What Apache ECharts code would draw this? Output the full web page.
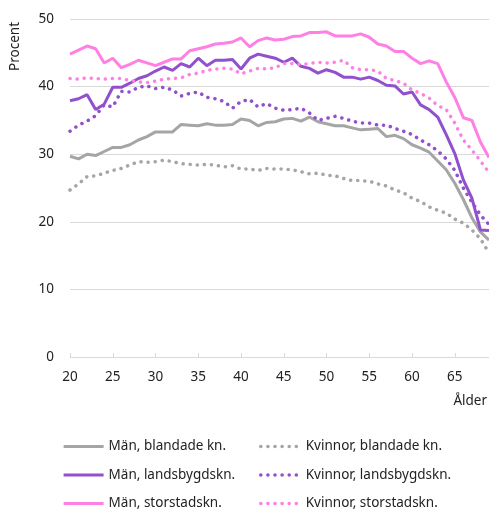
<!DOCTYPE html>
<html lang="sv">
<head>
    <meta charset="utf-8">
    <title>Procent efter ålder</title>
    <script src="https://cdn.jsdelivr.net/npm/echarts@6/dist/echarts.min.js"></script>
    <style>
        html, body { margin: 0; padding: 0; background: #fff; }
        #main { width: 489px; height: 509px; }
    </style>
</head>
<body>
<div id="main"></div>
<script>
    // ålder 20..69
    var ages = [];
    for (var a = 20; a <= 69; a++) ages.push(String(a));

    var manBlandade = [29.7, 29.3, 30.0, 29.8, 30.4, 31.0, 31.0, 31.4, 32.1, 32.6,
        33.3, 33.3, 33.3, 34.4, 34.3, 34.2, 34.5, 34.3, 34.3, 34.4,
        35.2, 35.0, 34.2, 34.7, 34.8, 35.2, 35.3, 34.9, 35.5, 34.8,
        34.5, 34.2, 34.2, 33.9, 33.6, 33.7, 33.8, 32.6, 32.8, 32.3,
        31.4, 30.9, 30.3, 29.0, 27.7, 25.7, 23.3, 20.6, 18.5, 17.3];
    var kvinnorBlandade = [24.7, 25.6, 26.7, 26.8, 27.2, 27.6, 27.9, 28.4, 28.9, 28.8,
        28.9, 29.1, 28.9, 28.6, 28.5, 28.4, 28.5, 28.4, 28.1, 28.3,
        27.8, 27.8, 27.6, 27.9, 27.8, 27.8, 27.7, 27.4, 27.1, 27.2,
        26.9, 26.8, 26.4, 26.1, 26.1, 26.0, 25.6, 25.3, 24.7, 24.3,
        23.5, 23.0, 22.2, 21.7, 21.3, 20.4, 19.8, 18.8, 17.5, 15.4];
    var manLandsbygd = [37.9, 38.2, 38.8, 36.6, 37.4, 39.9, 39.9, 40.5, 41.2, 41.6,
        42.3, 42.9, 42.4, 43.4, 42.9, 44.2, 43.1, 43.9, 43.9, 44.0,
        42.6, 44.2, 44.8, 44.5, 44.2, 43.6, 44.2, 43.0, 42.7, 42.0,
        42.5, 42.1, 41.4, 41.4, 41.1, 41.4, 40.9, 40.2, 40.1, 38.9,
        39.2, 37.3, 36.6, 35.5, 32.9, 30.1, 26.2, 23.5, 18.8, 18.7];
    var kvinnorLandsbygd = [33.4, 34.3, 34.9, 35.7, 37.3, 37.0, 39.3, 39.2, 39.9, 40.1,
        39.7, 39.9, 39.5, 38.6, 39.0, 39.2, 38.4, 38.2, 37.8, 36.8,
        37.8, 38.1, 37.0, 37.5, 36.8, 36.5, 36.6, 36.8, 36.1, 35.0,
        35.3, 35.6, 35.3, 34.9, 34.6, 34.6, 34.3, 34.3, 33.8, 33.4,
        32.9, 32.1, 31.4, 30.5, 29.3, 27.6, 25.0, 22.9, 21.0, 19.6];
    var manStorstad = [44.8, 45.4, 46.0, 45.6, 43.5, 44.2, 42.8, 43.3, 43.9, 43.5,
        43.1, 43.6, 44.1, 44.1, 45.3, 45.6, 45.9, 46.3, 46.4, 46.6,
        47.2, 45.9, 46.8, 47.2, 46.9, 47.0, 47.4, 47.5, 48.0, 48.0,
        48.1, 47.5, 47.5, 47.5, 47.8, 47.3, 46.3, 46.0, 45.2, 45.2,
        44.2, 43.4, 43.8, 43.4, 40.7, 38.4, 35.4, 35.0, 31.8, 29.5];
    var kvinnorStorstad = [41.2, 41.1, 41.3, 41.2, 41.1, 41.2, 41.2, 40.9, 40.7, 40.6,
        40.8, 41.1, 41.2, 41.3, 41.8, 42.0, 42.4, 42.6, 42.7, 42.6,
        41.9, 42.3, 42.7, 42.6, 42.8, 43.4, 43.4, 43.3, 43.4, 43.6,
        43.5, 43.6, 43.9, 42.8, 42.5, 42.5, 42.3, 41.2, 40.9, 40.5,
        39.5, 39.0, 38.3, 37.2, 36.6, 34.6, 32.1, 30.6, 29.0, 27.3];

    var grey = '#a5a5a5', purple = '#9150cc', pink = '#ff80e4';
    var font = "'Noto Sans', sans-serif";
    var dots = [0.1, 7];

    function solid(name, data, color) {
        return {
            name: name, type: 'line', data: data, showSymbol: false, symbol: 'none',
            itemStyle: { color: color },
            lineStyle: { color: color, width: 3 }
        };
    }
    function dotted(name, data, color) {
        return {
            name: name, type: 'line', data: data, showSymbol: false, symbol: 'none',
            itemStyle: { color: color },
            lineStyle: { color: color, width: 3.5, type: dots, cap: 'round' }
        };
    }

    // one legend per item, so the two columns line up like the original
    function legendItem(name, left, top, isDotted) {
        return {
            data: [name], left: left, top: top, padding: 0,
            itemWidth: 40, itemHeight: 14,
            itemStyle: { opacity: 0 },
            lineStyle: isDotted ? { width: 3.5, type: dots, cap: 'round' } : { width: 3.2, type: 'solid', cap: 'butt' },
            textStyle: { color: '#222', fontSize: 13.5, fontFamily: font }
        };
    }

    var myChart = echarts.init(document.getElementById('main'));
    var option = {
        animation: false,
        textStyle: { fontFamily: font },
        grid: { left: 70, top: 19, width: 420, bottom: 152 },
        xAxis: {
            type: 'category',
            data: ages,
            boundaryGap: false,
            axisLine: { lineStyle: { color: '#d9d9d9', width: 1 } },
            axisTick: { inside: true, length: 4, interval: 4, lineStyle: { color: '#d9d9d9' } },
            axisLabel: { interval: 4, color: '#222', fontSize: 13.5, margin: 13, fontFamily: font }
        },
        yAxis: {
            type: 'value',
            min: 0, max: 50, interval: 10,
            axisLine: { show: false },
            axisTick: { show: false },
            splitLine: { lineStyle: { color: '#d9d9d9', width: 1 } },
            axisLabel: { color: '#222', fontSize: 13.5, margin: 16, fontFamily: font }
        },
        graphic: [
            {
                type: 'text', left: 8, top: 22, rotation: Math.PI / 2,
                style: { text: 'Procent', font: "13.5px 'Noto Sans'", fill: '#222' }
            },
            {
                type: 'text', right: 2, top: 394,
                style: { text: 'Ålder', font: "13.5px 'Noto Sans'", fill: '#222' }
            }
        ],
        legend: [
            legendItem('Män, blandade kn.', 62, 439.5, false),
            legendItem('Män, landsbygdskn.', 62, 468, false),
            legendItem('Män, storstadskn.', 62, 496.5, false),
            legendItem('Kvinnor, blandade kn.', 259, 439.5, true),
            legendItem('Kvinnor, landsbygdskn.', 259, 468, true),
            legendItem('Kvinnor, storstadskn.', 259, 496.5, true)
        ],
        series: [
            solid('Män, blandade kn.', manBlandade, grey),
            dotted('Kvinnor, blandade kn.', kvinnorBlandade, grey),
            solid('Män, landsbygdskn.', manLandsbygd, purple),
            dotted('Kvinnor, landsbygdskn.', kvinnorLandsbygd, purple),
            solid('Män, storstadskn.', manStorstad, pink),
            dotted('Kvinnor, storstadskn.', kvinnorStorstad, pink)
        ]
    };
    myChart.setOption(option);
</script>
</body>
</html>
